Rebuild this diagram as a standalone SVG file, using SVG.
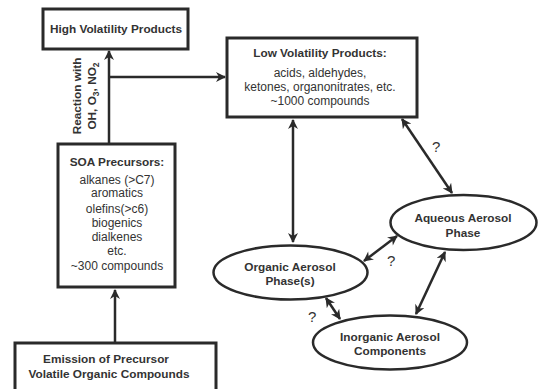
<svg xmlns="http://www.w3.org/2000/svg" width="538" height="389" viewBox="0 0 538 389">
<defs>
<marker id="ah" viewBox="0 0 10 10" refX="9" refY="5" markerWidth="11" markerHeight="10" orient="auto-start-reverse" markerUnits="userSpaceOnUse">
<path d="M0,0 L10,5 L0,10 L3,5 z" fill="#2a2a2a"/>
</marker>
<style>
.box{fill:#fff;stroke:#2a2a2a;stroke-width:3}
.ell{fill:#fff;stroke:#2a2a2a;stroke-width:2.5}
.t{font-family:"Liberation Sans",Arial,sans-serif;fill:#333;text-anchor:middle}
.b{font-weight:bold;font-size:11.8px}
.r{font-size:12px}
.con{stroke:#2a2a2a;stroke-width:2.5;fill:none}
.q{font-family:"Liberation Sans",Arial,sans-serif;fill:#333;font-size:15px}
</style>
</defs>
<rect width="538" height="389" fill="#fff"/>
<g id="connectors">
<line class="con" x1="109" y1="144" x2="109" y2="51" marker-end="url(#ah)"/>
<line class="con" x1="109" y1="77" x2="225" y2="77" marker-end="url(#ah)"/>
<line class="con" x1="115" y1="343" x2="115" y2="290" marker-end="url(#ah)"/>
<line class="con" x1="293" y1="120" x2="293" y2="242" marker-start="url(#ah)" marker-end="url(#ah)"/>
<line class="con" x1="402" y1="119" x2="452" y2="193" marker-start="url(#ah)" marker-end="url(#ah)"/>
<line class="con" x1="364" y1="261" x2="397" y2="236" marker-start="url(#ah)" marker-end="url(#ah)"/>
<line class="con" x1="326" y1="298" x2="340" y2="319" marker-start="url(#ah)" marker-end="url(#ah)"/>
<line class="con" x1="445" y1="252" x2="416" y2="314" marker-start="url(#ah)" marker-end="url(#ah)"/>
<text class="q" x="432" y="152">?</text>
<text class="q" x="387" y="266">?</text>
<text class="q" x="308" y="322">?</text>
</g>
<g id="high">
<rect class="box" x="43" y="9" width="145" height="40"/>
<text class="t b" x="116" y="33">High Volatility Products</text>
</g>
<g id="reaction-label">
<text class="t b" transform="translate(81,96) rotate(-90)" font-size="12.5">Reaction with</text>
<text class="t b" transform="translate(96,96) rotate(-90)" font-size="12.5">OH, O<tspan font-size="8.5" dy="3">3</tspan><tspan dy="-3">, NO</tspan><tspan font-size="8.5" dy="3">2</tspan></text>
</g>
<g id="low">
<rect class="box" x="227" y="38" width="190" height="79"/>
<text class="t b" x="320" y="57">Low Volatility Products:</text>
<text class="t r" x="320" y="77">acids, aldehydes,</text>
<text class="t r" x="320" y="91">ketones, organonitrates, etc.</text>
<text class="t r" x="320" y="105">~1000 compounds</text>
</g>
<g id="soa">
<rect class="box" x="58" y="144" width="117" height="143"/>
<text class="t b" x="117" y="166">SOA Precursors:</text>
<text class="t r" x="117" y="184">alkanes (&gt;C7)</text>
<text class="t r" x="117" y="197">aromatics</text>
<text class="t r" x="117" y="213">olefins(&gt;c6)</text>
<text class="t r" x="117" y="227">biogenics</text>
<text class="t r" x="117" y="241">dialkenes</text>
<text class="t r" x="117" y="255">etc.</text>
<text class="t r" x="117" y="270">~300 compounds</text>
</g>
<g id="emission">
<rect class="box" x="15" y="343" width="201" height="60"/>
<text class="t b" x="106" y="363">Emission of Precursor</text>
<text class="t b" x="109" y="378">Volatile Organic Compounds</text>
</g>
<g id="aqueous">
<ellipse class="ell" cx="463.5" cy="222.5" rx="73" ry="27.5"/>
<text class="t b" x="463" y="222">Aqueous Aerosol</text>
<text class="t b" x="463" y="237">Phase</text>
</g>
<g id="organic">
<ellipse class="ell" cx="290.5" cy="272.5" rx="77" ry="27"/>
<text class="t b" x="290" y="271">Organic Aerosol</text>
<text class="t b" x="290" y="285">Phase(s)</text>
</g>
<g id="inorganic">
<ellipse class="ell" cx="390" cy="342.5" rx="77" ry="27"/>
<text class="t b" x="390" y="341">Inorganic Aerosol</text>
<text class="t b" x="390" y="355">Components</text>
</g>
</svg>
